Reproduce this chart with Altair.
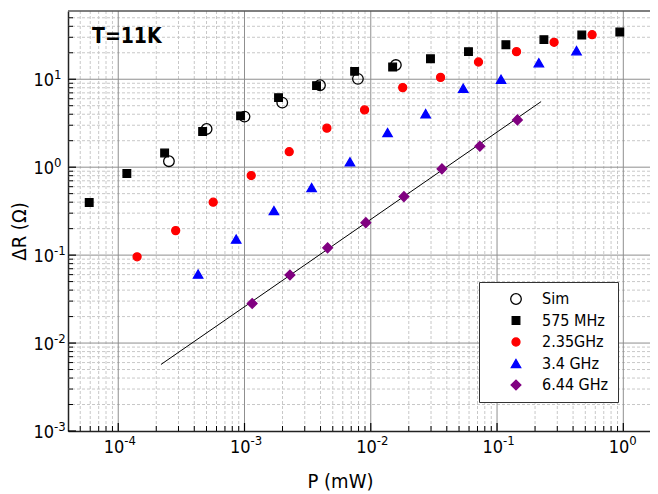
import altair as alt
import pandas as pd

FONT = "DejaVu Sans Condensed, DejaVu Sans, sans-serif"

# ---- data ----
series_names = ["Sim", "575 MHz", "2.35GHz", "3.4 GHz", "6.44 GHz"]

sim_p = [2.52e-4, 5.01e-4, 1.0e-3, 1.99e-3, 3.96e-3, 7.91e-3, 1.58e-2]
sim_r = [1.17, 2.72, 3.76, 5.42, 8.55, 10.1, 14.5]

mhz575_p = [5.89e-5, 1.17e-4, 2.33e-4, 4.66e-4, 9.31e-4, 1.86e-3, 3.72e-3, 7.45e-3,
            1.49e-2, 2.97e-2, 5.94e-2, 0.1175, 0.235, 0.469, 0.938]
mhz575_r = [0.396, 0.846, 1.45, 2.54, 3.83, 6.18, 8.46, 12.3, 13.8, 17.1, 20.6, 24.7,
            28.2, 31.9, 34.5]

ghz235_p = [1.41e-4, 2.85e-4, 5.65e-4, 1.13e-3, 2.26e-3, 4.49e-3, 8.93e-3, 1.79e-2,
            3.57e-2, 7.13e-2, 0.1426, 0.283, 0.566]
ghz235_r = [0.0957, 0.190, 0.400, 0.803, 1.50, 2.78, 4.48, 8.03, 10.5, 15.7, 20.6,
            26.3, 32.1]

ghz34_p = [4.29e-4, 8.59e-4, 1.71e-3, 3.40e-3, 6.84e-3, 1.358e-2, 2.72e-2, 5.40e-2,
           0.1076, 0.2144, 0.426]
ghz34_r = [0.0608, 0.152, 0.321, 0.586, 1.15, 2.47, 4.06, 7.90, 10.0, 15.4, 21.1]

ghz644_p = [1.15e-3, 2.29e-3, 4.55e-3, 9.14e-3, 1.83e-2, 3.66e-2, 7.31e-2, 0.145]
ghz644_r = [0.0282, 0.0593, 0.121, 0.234, 0.463, 0.957, 1.73, 3.45]

fit_p = [2.18e-4, 0.2234]
fit_r = [0.00571, 5.57]

# axis ticks and tick labels
x_major = [1e-4, 1e-3, 1e-2, 1e-1, 1.0]
x_exp = ["-4", "-3", "-2", "-1", "0"]
y_major = [1e-3, 1e-2, 1e-1, 1.0, 10.0]
y_exp = ["-3", "-2", "-1", "0", "1"]
x_domain = [4.0e-5, 1.627]
y_domain = [1e-3, 59.7]
x_minor = [k * 10.0 ** d for d in range(-5, 1) for k in range(2, 10)
           if 4.5e-5 < k * 10.0 ** d < 1.6]
y_minor = [k * 10.0 ** d for d in range(-3, 2) for k in range(2, 10)
           if k * 10.0 ** d < 59]

title_text = "T=11K"
x_title = "P (mW)"
y_title = "\u0394R (\u03a9)"

# ---- styles ----
shapes = ["circle", "square", "circle", "triangle-up", "diamond"]
fills = ["transparent", "#000000", "#ff0000", "#0000ff", "#800080"]
strokes = ["#000000", "#000000", "#ff0000", "#0000ff", "#800080"]
sizes = [112, 58, 64, 88, 95]

W, H = 582, 420

rows = []
for name, ps, rs in [("Sim", sim_p, sim_r), ("575 MHz", mhz575_p, mhz575_r),
                     ("2.35GHz", ghz235_p, ghz235_r), ("3.4 GHz", ghz34_p, ghz34_r),
                     ("6.44 GHz", ghz644_p, ghz644_r)]:
    for p, r in zip(ps, rs):
        rows.append({"series": name, "P": p, "R": r})
pts = pd.DataFrame(rows)
fit = pd.DataFrame({"P": fit_p, "R": fit_r})

xs = alt.Scale(type="log", domain=x_domain, nice=False)
ys = alt.Scale(type="log", domain=y_domain, nice=False)

xaxis = alt.Axis(values=x_major, labels=False, title=x_title, grid=False, ticks=False,
                 tickSize=0, domain=True, domainColor="#222222", domainWidth=1.5,
                 titleFont=FONT, titleFontSize=20, titleFontWeight="normal",
                 titleColor="black", titleX=272, titleY=56, titleBaseline="alphabetic",
                 titleAlign="center")
yaxis = alt.Axis(values=y_major, labels=False, title=y_title, grid=False,
                 ticks=False, tickSize=0, domain=True, domainColor="#222222",
                 domainWidth=1.5,
                 titleFont=FONT, titleFontSize=20, titleFontWeight="normal",
                 titleColor="black", titleX=-43, titleY=220, titleAngle=270,
                 titleBaseline="alphabetic", titleAlign="center")

X = lambda f: alt.X(f, type="quantitative", scale=xs, axis=xaxis)
Y = lambda f: alt.Y(f, type="quantitative", scale=ys, axis=yaxis)

xmin_df = pd.DataFrame({"v": x_minor})
ymin_df = pd.DataFrame({"v": y_minor})
xmaj_df = pd.DataFrame({"v": x_major, "base": ["10"] * len(x_major), "exp": x_exp})
ymaj_df = pd.DataFrame({"v": y_major, "base": ["10"] * len(y_major), "exp": y_exp})

grid_minor_x = alt.Chart(xmin_df).mark_rule(color="#c8c8c8", strokeWidth=1, strokeDash=[3, 2]).encode(x=X("v"))
grid_minor_y = alt.Chart(ymin_df).mark_rule(color="#c8c8c8", strokeWidth=1, strokeDash=[3, 2]).encode(y=Y("v"))
grid_major_x = alt.Chart(xmaj_df).mark_rule(color="#8f8f8f", strokeWidth=1).encode(x=X("v"))
grid_major_y = alt.Chart(ymaj_df).transform_filter("datum.v > 0.0011").mark_rule(
    color="#8f8f8f", strokeWidth=1).encode(y=Y("v"))

fit_line = alt.Chart(fit).mark_line(color="black", strokeWidth=1).encode(x=X("P"), y=Y("R"))

legend = alt.Legend(title=None, orient="none", legendX=411, legendY=271,
                    fillColor="white", strokeColor="#333333", padding=9,
                    symbolOffset=20, labelOffset=18, labelFont=FONT, labelFontSize=16,
                    labelColor="black", rowPadding=5.5, labelLimit=0,
                    symbolStrokeWidth=1.3)

points = alt.Chart(pts).mark_point(opacity=1, strokeWidth=1.3).encode(
    x=X("P"), y=Y("R"),
    shape=alt.Shape("series:N", scale=alt.Scale(domain=series_names, range=shapes), legend=legend),
    fill=alt.Fill("series:N", scale=alt.Scale(domain=series_names, range=fills), legend=legend),
    stroke=alt.Stroke("series:N", scale=alt.Scale(domain=series_names, range=strokes), legend=legend),
    size=alt.Size("series:N", scale=alt.Scale(type="ordinal", domain=series_names, range=sizes), legend=legend),
)

tick_x_minor = alt.Chart(xmin_df).mark_rule(color="black", strokeWidth=1).encode(
    x=X("v"), y=alt.value(H), y2=alt.value(H - 5))
tick_x_major = alt.Chart(xmaj_df).mark_rule(color="black", strokeWidth=1.2).encode(
    x=X("v"), y=alt.value(H), y2=alt.value(H - 8))
tick_y_minor = alt.Chart(ymin_df).mark_rule(color="black", strokeWidth=1).encode(
    y=Y("v"), x=alt.value(0), x2=alt.value(5))
tick_y_major = alt.Chart(ymaj_df).mark_rule(color="black", strokeWidth=1.2).encode(
    y=Y("v"), x=alt.value(0), x2=alt.value(8))

# tick labels: "10" with a raised exponent
xlab_base = alt.Chart(xmaj_df).mark_text(align="right", baseline="alphabetic", dx=6,
                                         font=FONT, fontSize=18, color="black").encode(
    x=X("v"), y=alt.value(H + 22), text="base:N")
xlab_exp = alt.Chart(xmaj_df).mark_text(align="left", baseline="alphabetic", dx=6,
                                        font=FONT, fontSize=13, color="black").encode(
    x=X("v"), y=alt.value(H + 14), text="exp:N")
ylab_base = alt.Chart(ymaj_df).mark_text(align="right", baseline="alphabetic", dy=7,
                                         font=FONT, fontSize=18, color="black").encode(
    y=Y("v"), x=alt.value(-14), text="base:N")
ylab_exp = alt.Chart(ymaj_df).mark_text(align="left", baseline="alphabetic", dy=0,
                                        font=FONT, fontSize=13, color="black").encode(
    y=Y("v"), x=alt.value(-14), text="exp:N")

top_frame = alt.Chart(pd.DataFrame({"a": [0]})).mark_rule(color="#555555", strokeWidth=1.3).encode(
    x=alt.value(0), x2=alt.value(W), y=alt.value(0))

label = alt.Chart(pd.DataFrame({"t": [title_text]})).mark_text(
    align="left", baseline="alphabetic", font=FONT, fontSize=21, fontWeight="bold",
    color="black").encode(text="t:N", x=alt.value(24), y=alt.value(32))

chart = alt.layer(
    grid_minor_x, grid_minor_y, grid_major_x, grid_major_y, fit_line, points,
    tick_x_minor, tick_x_major, tick_y_minor, tick_y_major,
    xlab_base, xlab_exp, ylab_base, ylab_exp, top_frame, label
).properties(
    width=W, height=H,
    padding={"left": 60, "top": 3, "right": 0, "bottom": 60},
    autosize=alt.AutoSizeParams(type="none"),
    background="white",
).configure_view(stroke=None)

chart.save("out.html", embed_options={"renderer": "svg", "actions": False})
